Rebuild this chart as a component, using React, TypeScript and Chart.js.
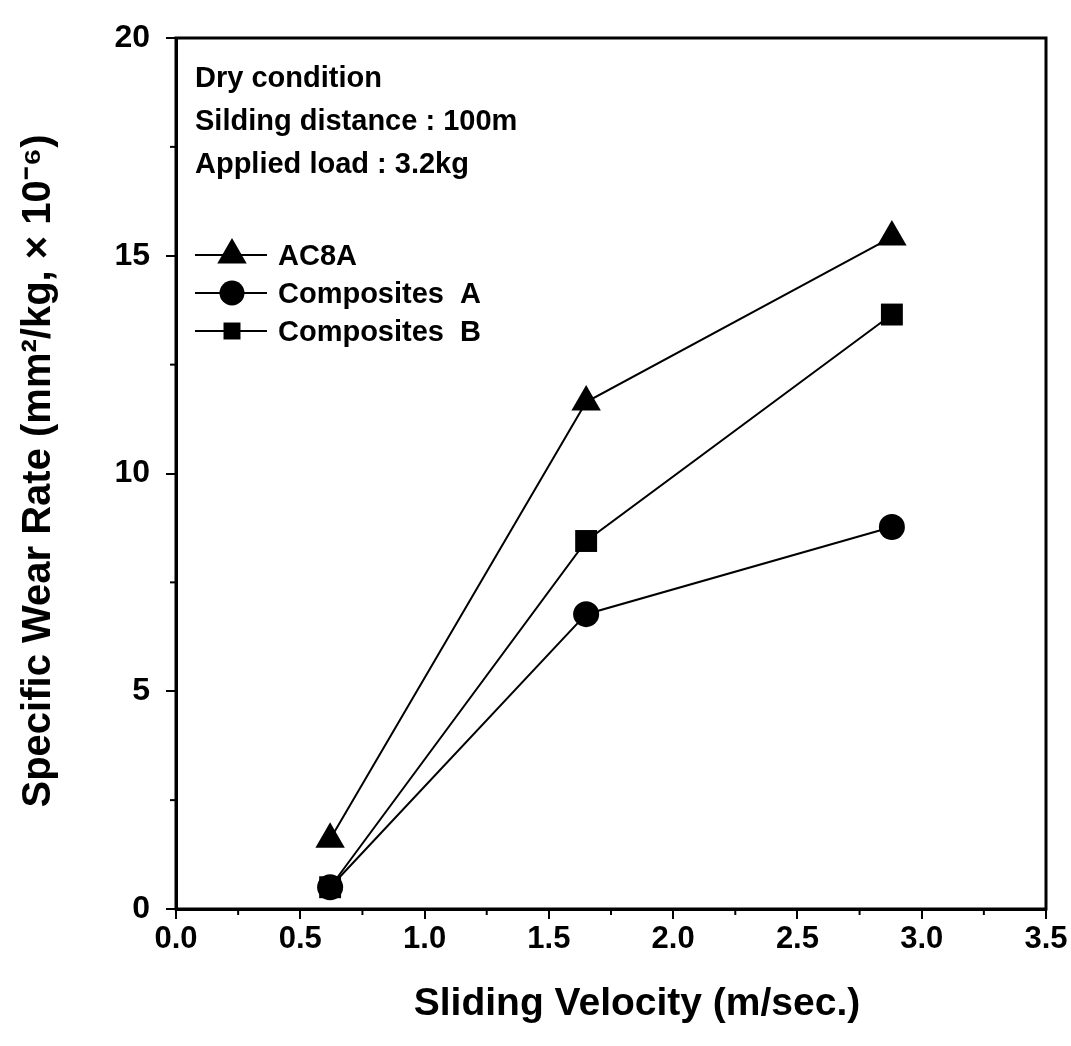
import React, { useEffect, useRef } from "react";
import { Chart, registerables } from "chart.js";

Chart.register(...registerables);

const velocities = [0.62, 1.65, 2.88];
const ac8a = [1.6, 11.64, 15.43];
const compositesA = [0.5, 6.77, 8.77];
const compositesB = [0.5, 8.45, 13.65];

const seriesNames = ["AC8A", "Composites  A", "Composites  B"];
const seriesStyles = ["triangle", "circle", "rect"];
const seriesRadius = [17, 13, 15.5];
const legendRadius = [17, 12.5, 12];

const notes = ["Dry condition", "Silding distance : 100m", "Applied load : 3.2kg"];

const xTitle = "Sliding Velocity (m/sec.)";
const yTitle = "Specific Wear Rate (mm\u00B2/kg, \u00D7 10\u207B\u2076)";

const FONT = "'Liberation Sans', Arial, Helvetica, sans-serif";

const toPoints = (ys: number[]) => velocities.map((x, i) => ({ x, y: ys[i] }));

function drawMarker(ctx: CanvasRenderingContext2D, style: string, r: number, x: number, y: number) {
  ctx.beginPath();
  if (style === "triangle") {
    ctx.moveTo(x, y - r);
    ctx.lineTo(x + Math.sin((Math.PI * 2) / 3) * r, y + r / 2);
    ctx.lineTo(x - Math.sin((Math.PI * 2) / 3) * r, y + r / 2);
    ctx.closePath();
  } else if (style === "circle") {
    ctx.arc(x, y, r, 0, Math.PI * 2);
  } else {
    const s = Math.SQRT1_2 * r;
    ctx.rect(x - s, y - s, 2 * s, 2 * s);
  }
  ctx.fill();
}

const decorPlugin = {
  id: "decor",
  afterDraw(chart: any) {
    const ctx = chart.ctx;
    const { left, right, top, bottom } = chart.chartArea;
    const xs = chart.scales.x;
    const ys = chart.scales.y;
    ctx.save();
    ctx.strokeStyle = "#000";
    ctx.fillStyle = "#000";
    // frame
    ctx.lineWidth = 3;
    ctx.strokeRect(left, top, right - left, bottom - top);
    // minor ticks
    ctx.lineWidth = 2;
    for (let v = 0.25; v < 3.5; v += 0.5) {
      const px = xs.getPixelForValue(v);
      ctx.beginPath();
      ctx.moveTo(px, bottom);
      ctx.lineTo(px, bottom + 6);
      ctx.stroke();
    }
    for (let v = 2.5; v < 20; v += 5) {
      const py = ys.getPixelForValue(v);
      ctx.beginPath();
      ctx.moveTo(left, py);
      ctx.lineTo(left - 6, py);
      ctx.stroke();
    }
    // notes
    ctx.font = `bold 29px ${FONT}`;
    ctx.textBaseline = "alphabetic";
    ctx.textAlign = "left";
    notes.forEach((t, i) => {
      ctx.fillText(t, left + 19, top + 49 + i * 43);
    });
    // legend
    seriesNames.forEach((name, i) => {
      const base = top + 227 + i * 38;
      const cy = base - 10;
      ctx.lineWidth = 2;
      ctx.beginPath();
      ctx.moveTo(left + 19, cy);
      ctx.lineTo(left + 91, cy);
      ctx.stroke();
      drawMarker(ctx, seriesStyles[i], legendRadius[i], left + 56, cy);
      ctx.fillText(name, left + 102, base);
    });
    // axis titles
    ctx.textAlign = "center";
    ctx.textBaseline = "middle";
    ctx.font = `bold 39px ${FONT}`;
    ctx.fillText(xTitle, 637, 1004);
    ctx.save();
    ctx.translate(39, 471);
    ctx.rotate(-Math.PI / 2);
    ctx.font = `bold 40px ${FONT}`;
    ctx.fillText(yTitle, 0, 0);
    ctx.restore();
    ctx.restore();
  },
};

export default function App() {
  const ref = useRef<HTMLCanvasElement>(null);
  useEffect(() => {
    if (!ref.current) return;
    const datasets = [ac8a, compositesA, compositesB].map((ys, i) => ({
      label: seriesNames[i],
      data: toPoints(ys),
      showLine: true,
      borderColor: "#000",
      backgroundColor: "#000",
      borderWidth: 2,
      pointStyle: seriesStyles[i],
      pointRadius: seriesRadius[i],
      pointBackgroundColor: "#000",
      pointBorderColor: "#000",
      pointBorderWidth: 0,
      tension: 0,
    }));
    const chart = new Chart(ref.current, {
      type: "scatter",
      data: { datasets },
      options: {
        animation: false,
        responsive: false,
        maintainAspectRatio: false,
        layout: { padding: { top: 38, right: 25, left: 0, bottom: 0 } },
        plugins: { legend: { display: false }, tooltip: { enabled: false } },
        scales: {
          x: {
            type: "linear",
            min: 0,
            max: 3.5,
            afterFit: (s: any) => {
              s.height = 137;
            },
            ticks: {
              stepSize: 0.5,
              color: "#000",
              font: { family: FONT, size: 31, weight: "bold" },
              padding: 2,
              maxRotation: 0,
              callback: (v: any) => Number(v).toFixed(1),
            },
            grid: { drawOnChartArea: false, tickLength: 10, color: "#000", lineWidth: 2 },
            border: { display: true, color: "#000", width: 3 },
          },
          y: {
            type: "linear",
            min: 0,
            max: 20,
            afterFit: (s: any) => {
              s.width = 176;
            },
            ticks: {
              stepSize: 5,
              color: "#000",
              font: { family: FONT, size: 32, weight: "bold" },
              padding: 16,
            },
            grid: { drawOnChartArea: false, tickLength: 10, color: "#000", lineWidth: 2 },
            border: { display: true, color: "#000", width: 3 },
          },
        },
      },
      plugins: [decorPlugin],
    } as any);
    return () => chart.destroy();
  }, []);
  return (
    <div style={{ position: "absolute", left: 0, top: 0, width: 1071, height: 1046, background: "#fff" }}>
      <canvas ref={ref} width={1071} height={1046} style={{ width: 1071, height: 1046, display: "block" }} />
    </div>
  );
}
